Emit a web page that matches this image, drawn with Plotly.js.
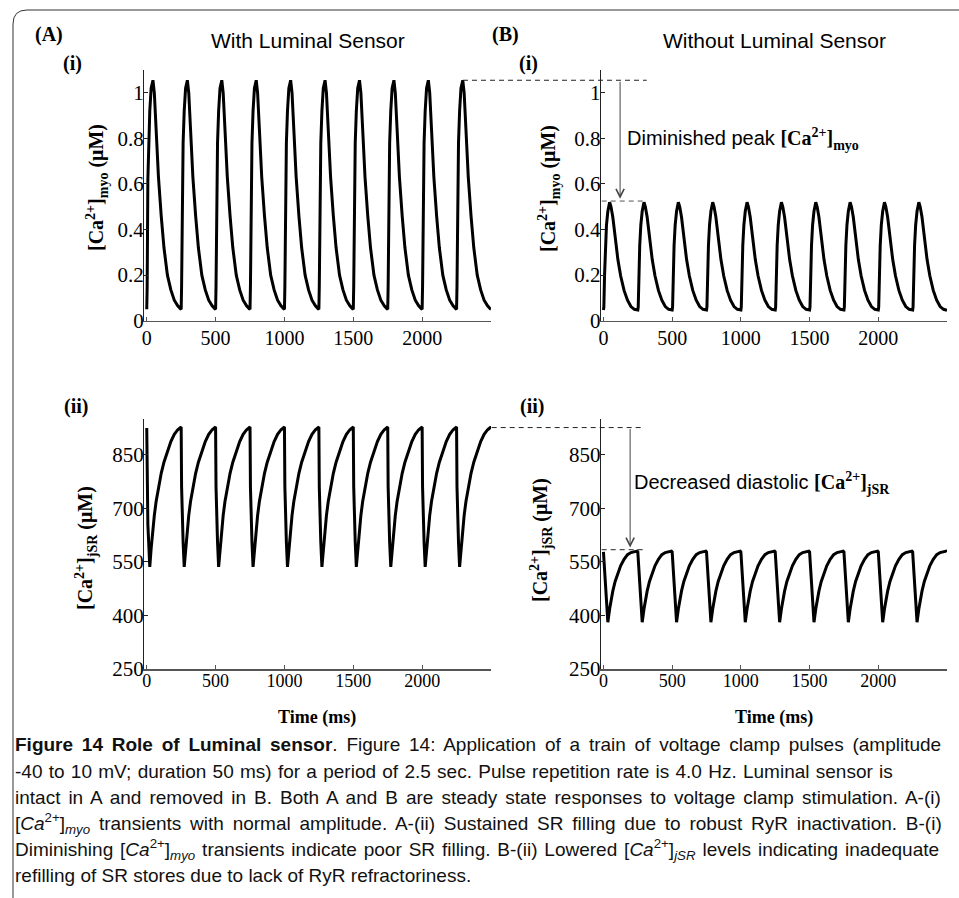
<!DOCTYPE html>
<html>
<head>
<meta charset="utf-8">
<script src="https://cdn.plot.ly/plotly-3.0.1.min.js"></script>
<style>html,body{margin:0;padding:0;background:#fff;}#chart{width:959px;height:898px;}</style>
</head>
<body>
<div id="chart"></div>
<script>
// Time (ms) samples, shared by all four traces
const timeMs = [
0,3,8,14,22,32,45,55,68,85,105,125,150,175,200,225,245,
250,253,258,264,272,282,295,305,318,335,355,375,400,425,450,475,495,
500,503,508,514,522,532,545,555,568,585,605,625,650,675,700,725,745,
750,753,758,764,772,782,795,805,818,835,855,875,900,925,950,975,995,
1000,1003,1008,1014,1022,1032,1045,1055,1068,1085,1105,1125,1150,1175,1200,1225,1245,
1250,1253,1258,1264,1272,1282,1295,1305,1318,1335,1355,1375,1400,1425,1450,1475,1495,
1500,1503,1508,1514,1522,1532,1545,1555,1568,1585,1605,1625,1650,1675,1700,1725,1745,
1750,1753,1758,1764,1772,1782,1795,1805,1818,1835,1855,1875,1900,1925,1950,1975,1995,
2000,2003,2008,2014,2022,2032,2045,2055,2068,2085,2105,2125,2150,2175,2200,2225,2245,
2250,2253,2258,2264,2272,2282,2295,2305,2318,2335,2355,2375,2400,2425,2450,2475,2495,
2500];

// (A)-(i) [Ca2+]myo with luminal sensor (uM)
const myoWith = [
0.05,0.15,0.62,0.78,0.92,1.02,1.055,1.0,0.84,0.63,0.46,0.32,0.20,0.135,0.09,0.065,0.052,
0.05,0.15,0.62,0.78,0.92,1.02,1.055,1.0,0.84,0.63,0.46,0.32,0.20,0.135,0.09,0.065,0.052,
0.05,0.15,0.62,0.78,0.92,1.02,1.055,1.0,0.84,0.63,0.46,0.32,0.20,0.135,0.09,0.065,0.052,
0.05,0.15,0.62,0.78,0.92,1.02,1.055,1.0,0.84,0.63,0.46,0.32,0.20,0.135,0.09,0.065,0.052,
0.05,0.15,0.62,0.78,0.92,1.02,1.055,1.0,0.84,0.63,0.46,0.32,0.20,0.135,0.09,0.065,0.052,
0.05,0.15,0.62,0.78,0.92,1.02,1.055,1.0,0.84,0.63,0.46,0.32,0.20,0.135,0.09,0.065,0.052,
0.05,0.15,0.62,0.78,0.92,1.02,1.055,1.0,0.84,0.63,0.46,0.32,0.20,0.135,0.09,0.065,0.052,
0.05,0.15,0.62,0.78,0.92,1.02,1.055,1.0,0.84,0.63,0.46,0.32,0.20,0.135,0.09,0.065,0.052,
0.05,0.15,0.62,0.78,0.92,1.02,1.055,1.0,0.84,0.63,0.46,0.32,0.20,0.135,0.09,0.065,0.052,
0.05,0.15,0.62,0.78,0.92,1.02,1.055,1.0,0.84,0.63,0.46,0.32,0.20,0.135,0.09,0.065,0.052,
0.05];

// (B)-(i) [Ca2+]myo without luminal sensor (uM)
const myoWithout = [
0.047,0.06,0.2,0.33,0.42,0.48,0.52,0.50,0.455,0.37,0.268,0.197,0.133,0.09,0.062,0.05,0.046,
0.047,0.06,0.2,0.33,0.42,0.48,0.52,0.50,0.455,0.37,0.268,0.197,0.133,0.09,0.062,0.05,0.046,
0.047,0.06,0.2,0.33,0.42,0.48,0.52,0.50,0.455,0.37,0.268,0.197,0.133,0.09,0.062,0.05,0.046,
0.047,0.06,0.2,0.33,0.42,0.48,0.52,0.50,0.455,0.37,0.268,0.197,0.133,0.09,0.062,0.05,0.046,
0.047,0.06,0.2,0.33,0.42,0.48,0.52,0.50,0.455,0.37,0.268,0.197,0.133,0.09,0.062,0.05,0.046,
0.047,0.06,0.2,0.33,0.42,0.48,0.52,0.50,0.455,0.37,0.268,0.197,0.133,0.09,0.062,0.05,0.046,
0.047,0.06,0.2,0.33,0.42,0.48,0.52,0.50,0.455,0.37,0.268,0.197,0.133,0.09,0.062,0.05,0.046,
0.047,0.06,0.2,0.33,0.42,0.48,0.52,0.50,0.455,0.37,0.268,0.197,0.133,0.09,0.062,0.05,0.046,
0.047,0.06,0.2,0.33,0.42,0.48,0.52,0.50,0.455,0.37,0.268,0.197,0.133,0.09,0.062,0.05,0.046,
0.047,0.06,0.2,0.33,0.42,0.48,0.52,0.50,0.455,0.37,0.268,0.197,0.133,0.09,0.062,0.05,0.046,
0.046];

// (A)-(ii) [Ca2+]jSR with luminal sensor (uM)
const jsrWith = [
925,760,655,605,536,588,647,680,719,759,798,829,860,887,907,920,926,
925,760,655,605,536,588,647,680,719,759,798,829,860,887,907,920,926,
925,760,655,605,536,588,647,680,719,759,798,829,860,887,907,920,926,
925,760,655,605,536,588,647,680,719,759,798,829,860,887,907,920,926,
925,760,655,605,536,588,647,680,719,759,798,829,860,887,907,920,926,
925,760,655,605,536,588,647,680,719,759,798,829,860,887,907,920,926,
925,760,655,605,536,588,647,680,719,759,798,829,860,887,907,920,926,
925,760,655,605,536,588,647,680,719,759,798,829,860,887,907,920,926,
925,760,655,605,536,588,647,680,719,759,798,829,860,887,907,920,926,
925,760,655,605,536,588,647,680,719,759,798,829,860,887,907,920,926,
926];

// (B)-(ii) [Ca2+]jSR without luminal sensor (uM)
const jsrWithout = [
578,560,528,490,440,381,418,443,468,495,520,539,557,570,576,579,580,
578,560,528,490,440,381,418,443,468,495,520,539,557,570,576,579,580,
578,560,528,490,440,381,418,443,468,495,520,539,557,570,576,579,580,
578,560,528,490,440,381,418,443,468,495,520,539,557,570,576,579,580,
578,560,528,490,440,381,418,443,468,495,520,539,557,570,576,579,580,
578,560,528,490,440,381,418,443,468,495,520,539,557,570,576,579,580,
578,560,528,490,440,381,418,443,468,495,520,539,557,570,576,579,580,
578,560,528,490,440,381,418,443,468,495,520,539,557,570,576,579,580,
578,560,528,490,440,381,418,443,468,495,520,539,557,570,576,579,580,
578,560,528,490,440,381,418,443,468,495,520,539,557,570,576,579,580,
578];

const xTicks = [0, 500, 1000, 1500, 2000];
const myoTicks = [0, 0.2, 0.4, 0.6, 0.8, 1];
const jsrTicks = [250, 400, 550, 700, 850];

const captionLines = [
  "<b>Figure 14 Role of Luminal sensor</b>. Figure 14: Application of a train of voltage clamp pulses (amplitude",
  "-40 to 10 mV; duration 50 ms) for a period of 2.5 sec. Pulse repetition rate is 4.0 Hz. Luminal sensor is",
  "intact in A and removed in B. Both A and B are steady state responses to voltage clamp stimulation. A-(i)",
  "[<i>Ca</i><sup>2+</sup>]<sub><i>myo</i></sub> transients with normal amplitude. A-(ii) Sustained SR filling due to robust RyR inactivation. B-(i)",
  "Diminishing [<i>Ca</i><sup>2+</sup>]<sub><i>myo</i></sub> transients indicate poor SR filling. B-(ii) Lowered [<i>Ca</i><sup>2+</sup>]<sub><i>jSR</i></sub> levels indicating inadequate",
  "refilling of SR stores due to lack of RyR refractoriness."
];
const captionWordSpacing = [3.5, 1, 2.7, 3.5, 1.6, 0];

const W = 959, H = 898;
const px = v => v / W;
const py = v => 1 - v / H;

const SERIF = "Liberation Serif, Times New Roman, serif";
const SANS = "Liberation Sans, Arial, sans-serif";
const CAP = "Liberation Sans, Arial, sans-serif";

const lineStyle = {color: 'black', width: 3};
const traces = [
  {x: timeMs, y: myoWith, xaxis: 'x', yaxis: 'y', type: 'scatter', mode: 'lines', line: lineStyle},
  {x: timeMs, y: myoWithout, xaxis: 'x2', yaxis: 'y2', type: 'scatter', mode: 'lines', line: lineStyle},
  {x: timeMs, y: jsrWith, xaxis: 'x3', yaxis: 'y3', type: 'scatter', mode: 'lines', line: lineStyle},
  {x: timeMs, y: jsrWithout, xaxis: 'x4', yaxis: 'y4', type: 'scatter', mode: 'lines', line: lineStyle}
];

function xAx(dom, anchor, size, standoff) {
  return {domain: dom, anchor: anchor, range: [-20, 2500], showline: true, linecolor: '#555', linewidth: 1.5,
    ticks: 'inside', ticklen: 4, tickcolor: '#555', tickvals: xTicks, showgrid: false, zeroline: false,
    ticklabelstandoff: standoff,
    tickfont: {family: SERIF, size: size, color: 'black'}, fixedrange: true};
}
function yAx(dom, anchor, range, vals) {
  return {domain: dom, anchor: anchor, range: range, showline: true, linecolor: '#222', linewidth: 1,
    ticks: 'inside', ticklen: 4, tickcolor: '#222', tickvals: vals, showgrid: false, zeroline: false,
    ticklabelstandoff: -5,
    tickfont: {family: SERIF, size: 21, color: 'black'}, fixedrange: true};
}

const xA = [px(144), px(491)], xB = [px(600.7), px(947)];
const yTop = [py(320.7), py(70)], yBot = [py(669), py(419)];

const peakWith = Math.max(...myoWith), peakWithout = Math.max(...myoWithout);
const jsrTopWith = Math.max(...jsrWith), jsrTopWithout = Math.max(...jsrWithout);

function ann(text, x, y, font, extra) {
  return Object.assign({text: text, xref: 'paper', yref: 'paper', x: x, y: y, showarrow: false,
    xanchor: 'center', yanchor: 'middle', font: font}, extra || {});
}
const boldLbl = {family: SERIF, size: 20, color: 'black'};
const timeFont = {family: SERIF, size: 18, color: 'black'};
const axTitleFont = {family: SERIF, size: 20, color: 'black'};

const annotations = [
  ann('<b>(A)</b>', px(49), py(35), boldLbl),
  ann('<b>(B)</b>', px(505), py(35), boldLbl),
  ann('<b>(i)</b>', px(72), py(64), boldLbl),
  ann('<b>(i)</b>', px(528), py(64), boldLbl),
  ann('<b>(ii)</b>', px(76), py(407), boldLbl),
  ann('<b>(ii)</b>', px(532), py(407), boldLbl),
  ann('With Luminal Sensor', px(307.5), py(41), {family: SANS, size: 21, color: 'black'}),
  ann('Without Luminal Sensor', px(774), py(41), {family: SANS, size: 21, color: 'black'}),
  ann('<b>[Ca<sup>2+</sup>]<sub>myo</sub> (μM)</b>', px(97), py(188), axTitleFont, {textangle: -90}),
  ann('<b>[Ca<sup>2+</sup>]<sub>myo</sub> (μM)</b>', px(549), py(189), axTitleFont, {textangle: -90}),
  ann('<b>[Ca<sup>2+</sup>]<sub>jSR</sub> (μM)</b>', px(86), py(548), axTitleFont, {textangle: -90}),
  ann('<b>[Ca<sup>2+</sup>]<sub>jSR</sub> (μM)</b>', px(541), py(540), axTitleFont, {textangle: -90}),
  ann('<b>Time (ms)</b>', px(317), py(717), timeFont),
  ann('<b>Time (ms)</b>', px(774), py(717), timeFont),
  ann("Diminished peak <span style=\"font-family:'Liberation Serif'\"><b>[Ca<sup>2+</sup>]<sub>myo</sub></b></span>",
      px(625), py(139), {family: SANS, size: 20, color: 'black'}, {xanchor: 'left'}),
  ann("Decreased diastolic <span style=\"font-family:'Liberation Serif'\"><b>[Ca<sup>2+</sup>]<sub>jSR</sub></b></span>",
      px(631.7), py(483), {family: SANS, size: 20, color: 'black'}, {xanchor: 'left'}),
  // arrows
  {xref: 'x2', yref: 'y2', x: 121, y: peakWithout + 0.015, axref: 'x2', ayref: 'y2', ax: 121, ay: peakWith,
   text: '', showarrow: true, arrowhead: 5, arrowsize: 1.6, arrowwidth: 1, arrowcolor: '#444', standoff: 0, startstandoff: 0},
  {xref: 'x4', yref: 'y4', x: 194, y: jsrTopWithout + 10, axref: 'x4', ayref: 'y4', ax: 194, ay: jsrTopWith,
   text: '', showarrow: true, arrowhead: 5, arrowsize: 1.6, arrowwidth: 1, arrowcolor: '#444', standoff: 0, startstandoff: 0}
];

const capY = [744, 771, 797, 823, 849, 875];
captionLines.forEach((t, i) => {
  const txt = captionWordSpacing[i] ? `<span style="word-spacing:${captionWordSpacing[i]}px">${t}</span>` : t;
  annotations.push(ann(txt, px(13), py(capY[i]), {family: CAP, size: 19, color: '#111'}, {xanchor: 'left'}));
});

const dashStyle = {color: '#222', width: 1, dash: '5px,4px'};
const shapes = [
  {type: 'line', xref: 'paper', yref: 'y', x0: px(463), x1: px(646.7), y0: peakWith, y1: peakWith, line: dashStyle},
  {type: 'line', xref: 'paper', yref: 'y2', x0: px(601.7), x1: px(643.3), y0: peakWithout + 0.005, y1: peakWithout + 0.005, line: Object.assign({}, dashStyle, {color: '#555'})},
  {type: 'line', xref: 'paper', yref: 'y3', x0: px(491.7), x1: px(641.7), y0: jsrTopWith, y1: jsrTopWith, line: dashStyle},
  {type: 'line', xref: 'paper', yref: 'y4', x0: px(601.7), x1: px(643.3), y0: jsrTopWithout + 4, y1: jsrTopWithout + 4, line: dashStyle},
  // figure frame with rounded top-left corner
  {type: 'path', xref: 'paper', yref: 'paper',
   path: `M ${px(13)},0 L ${px(13)},${py(24)} Q ${px(13)},${py(10)} ${px(27)},${py(10)} L 1,${py(10)}`,
   line: {color: '#333', width: 1}}
];

const layout = {
  width: W, height: H,
  margin: {l: 0, r: 0, t: 0, b: 0},
  paper_bgcolor: 'white', plot_bgcolor: 'rgba(0,0,0,0)',
  showlegend: false,
  xaxis: xAx(xA, 'y', 20, -1),
  yaxis: yAx(yTop, 'x', [0, 1.1], myoTicks),
  xaxis2: xAx(xB, 'y2', 20, -1),
  yaxis2: yAx(yTop, 'x2', [0, 1.1], myoTicks),
  xaxis3: xAx(xA, 'y3', 18, -5),
  yaxis3: yAx(yBot, 'x3', [250, 950], jsrTicks),
  xaxis4: xAx(xB, 'y4', 18, -5),
  yaxis4: yAx(yBot, 'x4', [250, 950], jsrTicks),
  annotations: annotations,
  shapes: shapes
};

Plotly.newPlot('chart', traces, layout, {staticPlot: true, displayModeBar: false});
</script>
</body>
</html>
